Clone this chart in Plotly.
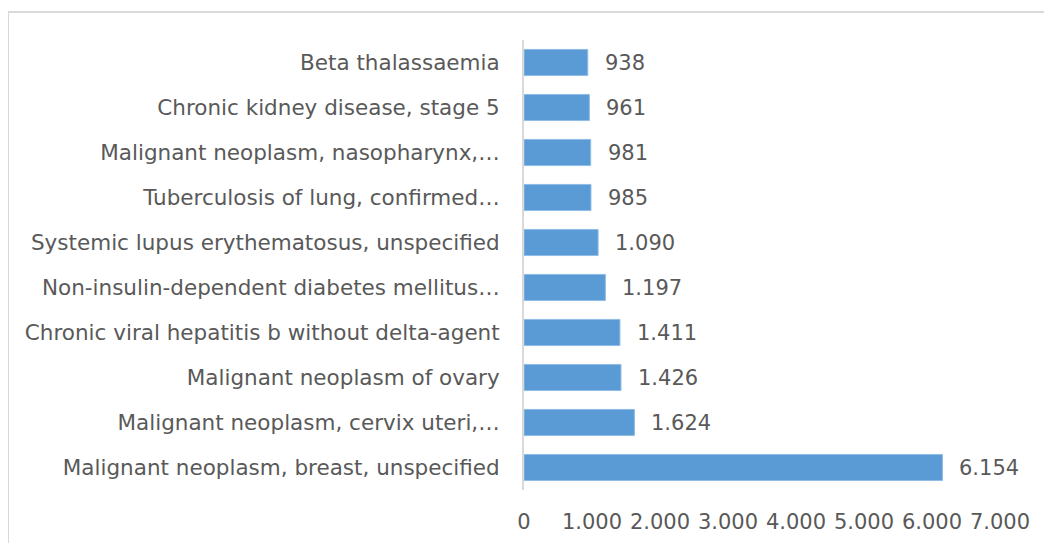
import plotly.graph_objects as go

categories = [
    "Malignant neoplasm, breast, unspecified",
    "Malignant neoplasm, cervix uteri,…",
    "Malignant neoplasm of ovary",
    "Chronic viral hepatitis b without delta-agent",
    "Non-insulin-dependent diabetes mellitus…",
    "Systemic lupus erythematosus, unspecified",
    "Tuberculosis of lung, confirmed…",
    "Malignant neoplasm, nasopharynx,…",
    "Chronic kidney disease, stage 5",
    "Beta thalassaemia",
]
values = [6154, 1624, 1426, 1411, 1197, 1090, 985, 981, 961, 938]
tick_values = [0, 1000, 2000, 3000, 4000, 5000, 6000, 7000]

TEXT = "#595959"
FONT = "DejaVu Sans"

fig = go.Figure()
fig.add_trace(go.Bar(
    x=values, y=categories, orientation="h",
    marker=dict(color="#5b9bd5", line=dict(color="#8fbde6", width=1)),
    width=0.58, hoverinfo="x+y",
))

for c, v in zip(categories, values):
    fig.add_annotation(
        x=v, y=c, xref="x", yref="y",
        text=f"{v:,}".replace(",", "."),
        showarrow=False, xanchor="left", yanchor="middle",
        xshift=15, font=dict(family=FONT, size=21, color=TEXT),
    )

fig.add_shape(type="rect", xref="paper", yref="paper",
              x0=-1.084, x1=1.2, y0=-0.3, y1=1.062,
              line=dict(color="#d9d9d9", width=2), layer="below")

fig.update_layout(
    width=1044, height=535,
    margin=dict(l=516, r=52, t=32, b=53),
    plot_bgcolor="white", paper_bgcolor="white",
    separators=",.",
    showlegend=False,
    font=dict(family=FONT, size=21, color=TEXT),
    xaxis=dict(range=[0, 7000], tickvals=tick_values, tickformat=",d",
               showgrid=False, zeroline=False, showline=False,
               ticks="", ticklabelstandoff=17, automargin=False,
               tickfont=dict(family=FONT, size=21, color=TEXT)),
    yaxis=dict(range=[-0.5, 9.5], showgrid=False, zeroline=False,
               showline=True, linecolor="#d9d9d9", linewidth=2,
               ticks="", ticklabelstandoff=18, automargin=False,
               tickfont=dict(family=FONT, size=21.5, color=TEXT)),
)

fig.write_html("out.html")
